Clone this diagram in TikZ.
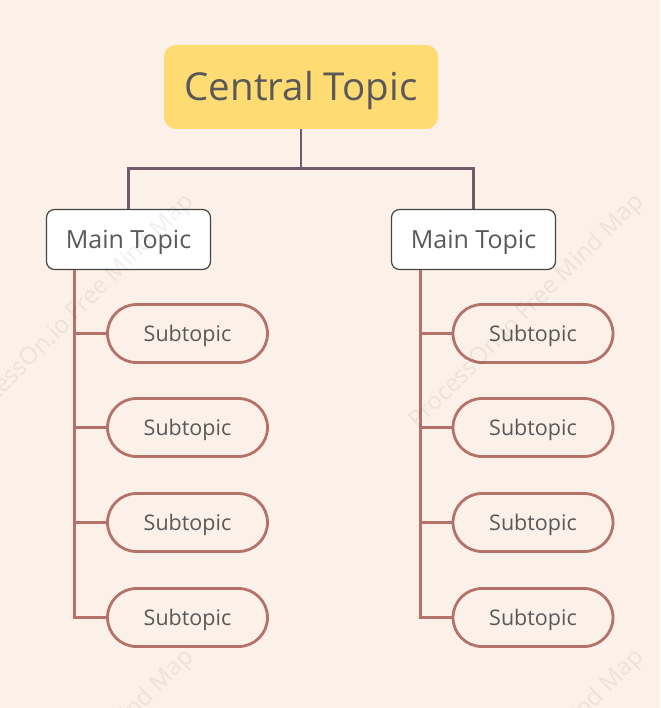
\documentclass[tikz,border=0pt]{standalone}
\usepackage{fontspec}
\setmainfont{Open Sans}
\usetikzlibrary{positioning}

\definecolor{bgcol}{HTML}{FBF1E8}
\definecolor{centralcol}{HTML}{FFDB74}
\definecolor{textcol}{HTML}{595959}
\definecolor{trunkcol}{HTML}{735A6B}
\definecolor{branchcol}{HTML}{B5726A}
\definecolor{maincol}{HTML}{454545}

\tikzset{
  central/.style={fill=centralcol, rounded corners=12pt, minimum width=274pt,
    minimum height=84pt, text=textcol, font=\fontsize{38.5}{42}\selectfont,
    text height=27.5pt, text depth=0pt},
  maintopic/.style={draw=maincol, line width=1.2pt, fill=white, rounded corners=8pt,
    minimum width=164pt, minimum height=60pt, text=textcol, font=\fontsize{25}{28}\selectfont,
    text height=18pt, text depth=0pt},
  subtopic/.style={draw=branchcol, line width=2.8pt, rounded corners=29pt,
    minimum width=160pt, minimum height=58pt, text=textcol, font=\fontsize{21.5}{24}\selectfont,
    text height=15.4pt, text depth=0pt},
  trunk/.style={draw=trunkcol, line width=2.8pt},
  branch/.style={draw=branchcol, line width=2.8pt},
  watermark/.style={text=black, opacity=0.06, rotate=45, font=\fontsize{24}{28}\selectfont}
}

\begin{document}
\begin{tikzpicture}[x=1pt, y=-1pt]

% Background
\fill[bgcol] (0,0) rectangle (660,708);
\useasboundingbox (0,0) rectangle (660,708);

% Topics
\node[central] (central) at (301,87) {Central Topic};
\node[maintopic] (mainL) at (128.5,239.5) {Main Topic};
\node[maintopic] (mainR) at (473.5,239.5) {Main Topic};

% Subtopics
\foreach \i/\y in {1/333.5, 2/427.5, 3/522.5, 4/617.5} {
  \node[subtopic] (subL\i) at (187.5,\y) {Subtopic};
  \node[subtopic] (subR\i) at (533,\y) {Subtopic};
}

% Central to main topics
\draw[trunk] (central.south) -- ++(0,39) -| (mainL.north);
\draw[trunk] (central.south) -- ++(0,39) -| (mainR.north);

% Main topics to subtopics
\coordinate (trunkL) at ([xshift=28.5pt]mainL.south west);
\coordinate (trunkR) at ([xshift=29.5pt]mainR.south west);
\draw[branch] (trunkL) |- (subL4.west);
\draw[branch] (trunkR) |- (subR4.west);
\foreach \i in {1,2,3} {
  \draw[branch] (subL\i.west) -- (subL\i.west -| trunkL);
  \draw[branch] (subR\i.west) -- (subR\i.west -| trunkR);
}

% Watermark
\begin{scope}
  \clip (0,0) rectangle (660,708);
  \foreach \x/\y [count=\k] in {77/312, 527/312, 77/767, 527/767}
    \node[watermark] (mark\k) at (\x,\y) {ProcessOn.io Free Mind Map};
\end{scope}

\end{tikzpicture}
\end{document}
